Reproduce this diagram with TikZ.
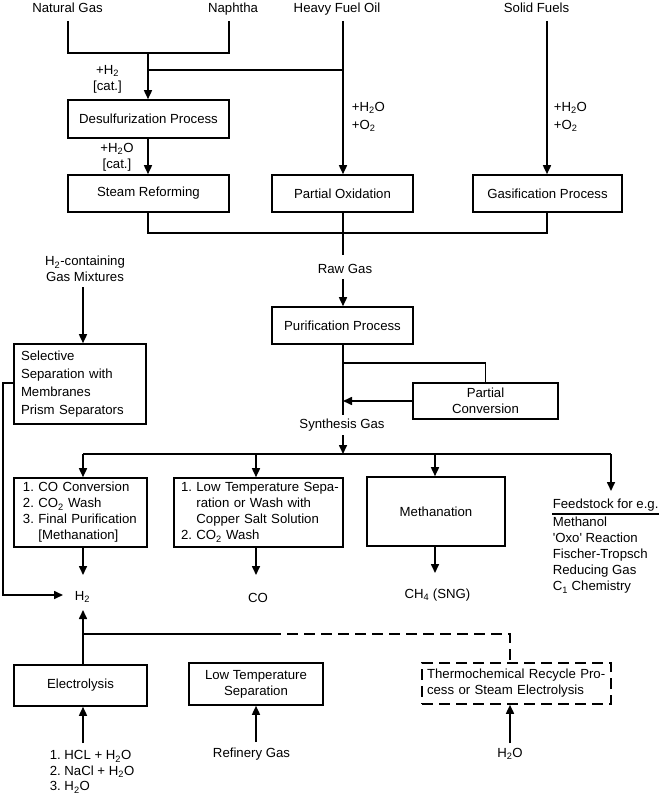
\documentclass[tikz,border=0pt]{standalone}
\usepackage{fontspec}
\setmainfont{Liberation Sans}
\usetikzlibrary{arrows.meta}
\begin{document}
\frenchspacing
\begin{tikzpicture}[x=1pt,y=-1pt,line width=1.6pt,
  every node/.style={font=\fontsize{13.2}{16}\selectfont, inner sep=0pt},
  proc/.style={draw, align=center, inner sep=0pt},
  arr/.style={-{Triangle[length=9pt,width=8pt]}},
  dsh/.style={dash pattern=on 11pt off 6pt},
]
\useasboundingbox (0,0) rectangle (660,797);

% sources
\node[anchor=base] (natgas) at (67.5,13) {Natural Gas};
\node[anchor=base] (naphtha) at (233,13) {Naphtha};
\node[anchor=base] (hfo) at (337,13) {Heavy Fuel Oil};
\node[anchor=base] (solid) at (536.5,13) {Solid Fuels};

% process boxes
\node[proc, minimum width=161pt, minimum height=38pt] (desulf) at (148.5,119) {Desulfurization Process};
\node[proc, minimum width=161pt, minimum height=37pt] (steam) at (148.5,193.5) {Steam Reforming};
\node[proc, minimum width=141pt, minimum height=37pt] (partox) at (342.5,193.5) {Partial Oxidation};
\node[proc, minimum width=149pt, minimum height=37pt] (gasif) at (547.5,193.5) {Gasification Process};

% reagent labels
\node[align=center] (lh2) at (107.5,79) {+H\textsubscript{2}\\{}[cat.]};
\node[align=center] (lh2o) at (117,157) {+H\textsubscript{2}O\\{}[cat.]};
\node[align=left, anchor=west, font=\fontsize{13.2}{18}\selectfont] (lpo) at (351,117) {+H\textsubscript{2}O\\+O\textsubscript{2}};
\node[align=left, anchor=west, font=\fontsize{13.2}{18}\selectfont] (lgs) at (553,117) {+H\textsubscript{2}O\\+O\textsubscript{2}};

\node[anchor=base] (raw) at (345,273) {Raw Gas};
\node[proc, minimum width=141pt, minimum height=37pt] (purif) at (342.5,325.5) {Purification Process};
\node[proc, minimum width=145pt, minimum height=36pt] (partconv) at (485.5,401) {Partial\\Conversion};
\node[anchor=base] (syn) at (342,428) {Synthesis Gas};

% membrane branch
\node[align=center] (h2mix) at (85,269) {H\textsubscript{2}-containing\\Gas Mixtures};
\node[proc, minimum width=132pt, minimum height=80pt, text width=118pt, align=left, font=\fontsize{13.2}{18}\selectfont] (select) at (80,384) {Selective\\Separation with\\Membranes\\Prism Separators};

% product boxes
\node[proc, minimum width=133pt, minimum height=69pt, text width=115pt, align=left] (box1) at (80.5,512.5) {\mbox{1. CO Conversion}\\\mbox{2. CO\textsubscript{2} Wash}\\\mbox{3. Final Purification}\\\mbox{\phantom{3. }[Methanation]}};
\node[proc, minimum width=169pt, minimum height=69pt, text width=155pt, align=left] (box2) at (258.5,512.5) {\mbox{1. Low Temperature Sepa-}\\\mbox{\phantom{1. }ration or Wash with}\\\mbox{\phantom{1. }Copper Salt Solution}\\\mbox{2. CO\textsubscript{2} Wash}};
\node[proc, minimum width=138pt, minimum height=69pt] (methan) at (436,511.5) {Methanation};

\node[anchor=base west] (feedhead) at (552,508) {Feedstock for e.g.};
\node[anchor=north west, align=left] (feedlist) at (552,516.5) {Methanol\\\textquotesingle Oxo\textquotesingle{} Reaction\\Fischer-Tropsch\\Reducing Gas\\C\textsubscript{1} Chemistry};

\node[anchor=base] (hyd) at (82.5,600) {H\textsubscript{2}};
\node[anchor=base] (co) at (258,602) {CO};
\node[anchor=base] (ch4) at (437.5,598) {CH\textsubscript{4} (SNG)};

% bottom boxes
\node[proc, minimum width=133pt, minimum height=41pt] (electro) at (80.5,685.5) {Electrolysis};
\node[proc, minimum width=134pt, minimum height=42pt] (ltsep) at (256,684) {Low Temperature\\Separation};
\node[proc, dsh, minimum width=189pt, minimum height=41pt, text width=179pt, align=left] (thermo) at (516.5,683.5) {\mbox{Thermochemical Recycle Pro-}\\\mbox{cess or Steam Electrolysis}};

\node[align=left, anchor=west, font=\fontsize{13.2}{15.5}\selectfont] (elin) at (49,772) {1. HCL + H\textsubscript{2}O\\2. NaCl + H\textsubscript{2}O\\3. H\textsubscript{2}O};
\node[anchor=base] (refgas) at (251.5,757) {Refinery Gas};
\node[anchor=base] (h2oin) at (510,757) {H\textsubscript{2}O};

% connectors top
\coordinate (ngl) at (68,21);
\coordinate (nal) at (229,21);
\coordinate (j1) at (148,53);
\coordinate (j2) at (148,70);
\coordinate (hfl) at (343,21);
\coordinate (sfl) at (547,21);
\draw (ngl) |- (j1) -| (nal);
\draw[arr] (j1) -- (j1 |- desulf.north);
\draw (j2) -- (j2 -| hfl);
\draw[arr] (hfl) -- (hfl |- partox.north);
\draw[arr] (sfl) -- (sfl |- gasif.north);
\draw[arr] (j1 |- desulf.south) -- (j1 |- steam.north);

\coordinate (c1) at (343,233);
\coordinate (rawtop) at (343,255);
\coordinate (rawbot) at (343,279);
\draw (j1 |- steam.south) |- (c1) -| (sfl |- gasif.south);
\draw (hfl |- partox.south) -- (c1) -- (rawtop);
\draw[arr] (rawbot) -- (rawbot |- purif.north);

\coordinate (synend) at (343,415);
\coordinate (br) at (343,363);
\draw (rawbot |- purif.south) -- (synend);
\draw (br) -| (partconv.north);
\draw[arr] (partconv.west) -- (partconv.west -| br);

\coordinate (s1) at (343,435);
\coordinate (s2) at (343,454);
\draw[arr] (s1) -- (s2);
\coordinate (hl) at (83,454);
\coordinate (hr) at (611,454);
\coordinate (hb2) at (256,454);
\coordinate (hb3) at (435,454);
\coordinate (fe) at (611,491);
\draw (hl) -- (hr);
\draw[arr] (hl) -- (hl |- box1.north);
\draw[arr] (hb2) -- (hb2 |- box2.north);
\draw[arr] (hb3) -- (hb3 |- methan.north);
\draw[arr] (hr) -- (fe);
\draw ([yshift=-6pt]feedhead.base west) -- ([yshift=-6pt]feedhead.base east);

\coordinate (p1) at (83,575);
\coordinate (p2) at (256,575);
\coordinate (p3) at (435,573);
\draw[arr] (hl |- box1.south) -- (p1);
\draw[arr] (hb2 |- box2.south) -- (p2);
\draw[arr] (hb3 |- methan.south) -- (p3);

% membrane branch
\coordinate (m1) at (83,287);
\draw[arr] (m1) -- (m1 |- select.north);
\coordinate (sely) at (0,383);
\coordinate (lc1) at (3,383);
\coordinate (lc2) at (3,595);
\coordinate (h2in) at (63,595);
\draw[arr] (select.west |- sely) -- (lc1) -- (lc2) -- (h2in);

% bottom
\coordinate (up1) at (83,610);
\coordinate (b1) at (83,634);
\coordinate (b2) at (270,634);
\coordinate (b3) at (510,634);
\draw[arr] (up1 |- electro.north) -- (up1);
\draw (b1) -- (b2);
\draw[dsh] (b2) -- (b3) -- (b3 |- thermo.north);

\coordinate (in1) at (83,743);
\coordinate (in2) at (256,742);
\coordinate (in3) at (510,743);
\draw[arr] (in1) -- (in1 |- electro.south);
\draw[arr] (in2) -- (ltsep.south);
\draw[arr] (in3) -- (in3 |- thermo.south);
\end{tikzpicture}
\end{document}
